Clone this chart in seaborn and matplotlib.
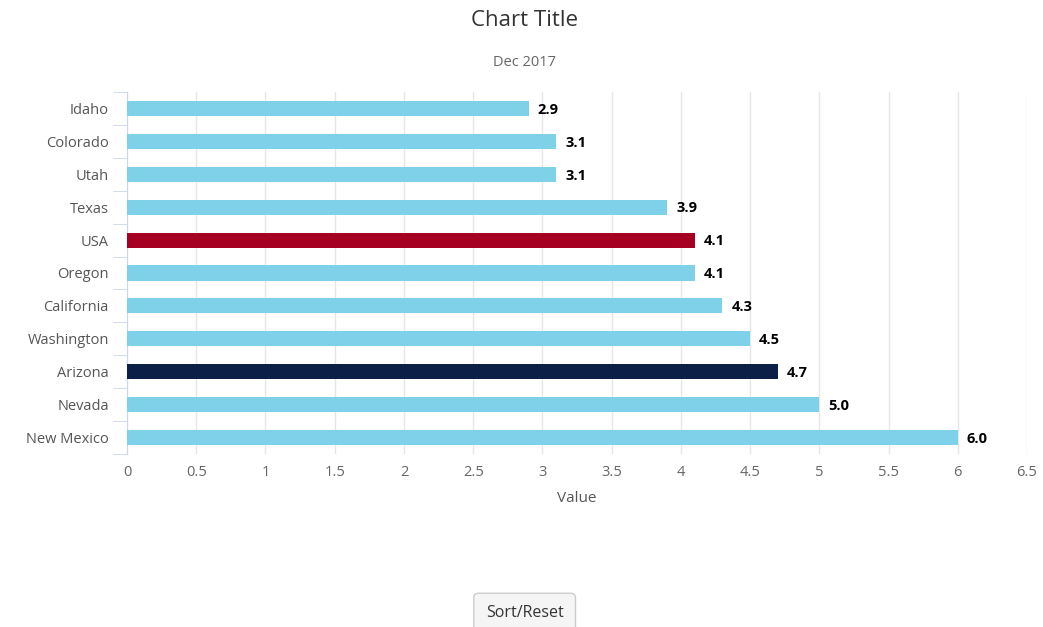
import matplotlib
matplotlib.use("Agg")
import matplotlib.pyplot as plt
import seaborn as sns
import pandas as pd
import numpy as np

states = ["Idaho", "Colorado", "Utah", "Texas", "USA", "Oregon", "California",
          "Washington", "Arizona", "Nevada", "New Mexico"]
values = [2.9, 3.1, 3.1, 3.9, 4.1, 4.1, 4.3, 4.5, 4.7, 5.0, 6.0]
highlight = {"USA": "#a50021", "Arizona": "#0c1f47"}
base_color = "#7fd1ea"

df = pd.DataFrame({"state": states, "value": values})
palette = {s: highlight.get(s, base_color) for s in states}

sns.set_style("white")
plt.rcParams["font.family"] = ["Open Sans", "DejaVu Sans"]

fig = plt.figure(figsize=(10.43, 6.27), dpi=100)
ax = fig.add_axes([0.1218, 0.2759, 0.8629, 0.5774])

sns.barplot(data=df, x="value", y="state", hue="state", palette=palette,
            legend=False, width=0.46, saturation=1, linewidth=0, ax=ax, zorder=3)

ax.set_xlim(0, 6.5)
ax.set_xticks(np.arange(0, 6.51, 0.5))
ax.set_xticklabels([f"{t:g}" for t in np.arange(0, 6.51, 0.5)])
ax.xaxis.grid(True, color="#e6e6e6", linewidth=1, zorder=0)
ax.set_axisbelow(True)

for i, v in enumerate(values):
    ax.text(v + 0.065, i + 0.04, f"{v:.1f}", va="center", ha="left",
            fontsize=10.5, fontweight="bold", color="black")

for sp in ["top", "right", "bottom"]:
    ax.spines[sp].set_visible(False)
ax.spines["left"].set_color("#ccd6eb")

# category boundary ticks on the left axis
ax.set_yticks(np.arange(-0.5, len(states), 1), minor=True)
ax.tick_params(axis="y", which="minor", length=10, color="#ccd6eb", left=True)
ax.tick_params(axis="y", which="major", length=0, pad=13, labelsize=10.5,
               labelcolor="#555555")
ax.tick_params(axis="x", length=0, pad=8, labelsize=10.5, labelcolor="#666666")

ax.set_ylabel("")
ax.set_xlabel("Value", fontsize=11, color="#555555", labelpad=8)

fig.text(0.503, 0.967, "Chart Title", ha="center", va="center",
         fontsize=16, color="#333333")
fig.text(0.503, 0.901, "Dec 2017", ha="center", va="center",
         fontsize=10.5, color="#666666")

fig.text(0.503, 0.022, "Sort/Reset", ha="center", va="center",
         fontsize=11.5, color="#333333",
         bbox=dict(boxstyle="round,pad=0.75,rounding_size=0.3",
                   facecolor="#f5f5f5", edgecolor="#cccccc"))

fig.savefig("out.png", dpi=100)
